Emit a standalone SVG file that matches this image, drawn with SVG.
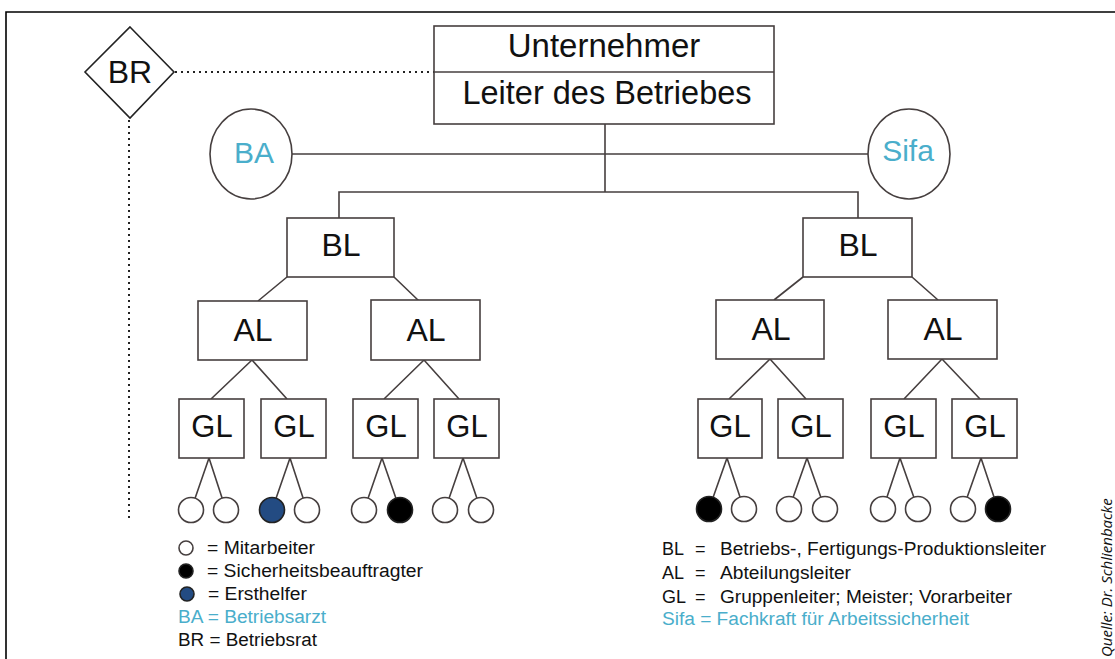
<svg xmlns="http://www.w3.org/2000/svg" width="1115" height="659" viewBox="0 0 1115 659">
<style>
.box{fill:#fff;stroke:#463f3f;stroke-width:1.6}
.ln{fill:none;stroke:#463f3f;stroke-width:1.6}
.dot{fill:none;stroke:#222;stroke-width:2;stroke-dasharray:2 4}
.t{font-family:"Liberation Sans",Arial,sans-serif;fill:#111;text-anchor:middle}
.big{font-size:32px}
.lg{font-family:"Liberation Sans",Arial,sans-serif;font-size:18px;fill:#111}
.t.cy,.lg.cy{fill:#4aaecb}
.w{fill:#fff;stroke:#463f3f;stroke-width:1.6}
.k{fill:#000;stroke:#222;stroke-width:1.6}
.b{fill:#234b82;stroke:#222;stroke-width:1.6}
</style>
<rect width="1115" height="659" fill="#fff"/>
<path d="M6 659 V12 H1115" fill="none" stroke="#000" stroke-width="1.6"/>

<g id="connectors">
<path class="dot" d="M175 72 H434"/>
<path class="dot" d="M129 120 V522"/>
<path class="ln" d="M605 124 V192 M292 154 H868 M339 218 V192 H858 V218"/>
<path class="ln" d="M287 277 L258 301 M394 277 L419 301 M803 277 L774 300 M912 277 L938 300"/>
<path class="ln" d="M252 360 L211 399 M252 360 L287 399 M424 360 L384 399 M424 360 L459 399"/>
<path class="ln" d="M770 359 L729 399 M770 359 L806 399 M942 359 L904 399 M942 359 L980 399"/>
<path class="ln" d="M209 458 L191 510 M209 458 L226 510 M290 458 L272 510 M290 458 L307 510 M382 458 L364 510 M382 458 L400 510 M463 458 L445 510 M463 458 L481 510"/>
<path class="ln" d="M727 458 L709 509 M727 458 L744 509 M807 458 L789 509 M807 458 L825 509 M900 458 L883 509 M900 458 L918 509 M981 458 L963 509 M981 458 L998 509"/>
</g>

<g id="br">
<polygon points="130,27 174,72 130,118 85,72" fill="#fff" stroke="#222" stroke-width="1.6"/>
<text class="t big" x="130" y="83" font-size="33">BR</text>
</g>

<g id="top">
<rect class="box" x="434" y="26" width="340" height="98"/>
<line class="ln" x1="434" y1="72" x2="774" y2="72"/>
<text class="t" font-size="33" x="604" y="57">Unternehmer</text>
<text class="t" x="607" y="104" font-size="32.5">Leiter des Betriebes</text>
</g>

<g id="ba">
<ellipse class="w" cx="251" cy="154" rx="41" ry="45"/>
<text class="t cy" x="254" y="163" font-size="30">BA</text>
</g>
<g id="sifa">
<ellipse class="w" cx="909" cy="154" rx="41" ry="45"/>
<text class="t cy" x="908" y="161" font-size="30">Sifa</text>
</g>

<g id="bl1"><rect class="box" x="287" y="218" width="107" height="59"/><text class="t big" x="341" y="256">BL</text></g>
<g id="bl2"><rect class="box" x="803" y="218" width="109" height="59"/><text class="t big" x="858" y="256">BL</text></g>

<g id="al1"><rect class="box" x="198" y="301" width="109" height="59"/><text class="t big" x="253" y="341">AL</text></g>
<g id="al2"><rect class="box" x="371" y="300" width="109" height="60"/><text class="t big" x="426" y="341">AL</text></g>
<g id="al3"><rect class="box" x="716" y="300" width="108" height="59"/><text class="t big" x="771" y="340">AL</text></g>
<g id="al4"><rect class="box" x="888" y="300" width="109" height="59"/><text class="t big" x="943" y="340">AL</text></g>

<g id="gl1"><rect class="box" x="179" y="399" width="65" height="59"/><text class="t" font-size="31" x="212" y="437">GL</text></g>
<g id="gl2"><rect class="box" x="261" y="399" width="65" height="59"/><text class="t" font-size="31" x="294" y="437">GL</text></g>
<g id="gl3"><rect class="box" x="353" y="399" width="65" height="59"/><text class="t" font-size="31" x="386" y="437">GL</text></g>
<g id="gl4"><rect class="box" x="434" y="399" width="65" height="59"/><text class="t" font-size="31" x="467" y="437">GL</text></g>
<g id="gl5"><rect class="box" x="698" y="399" width="64" height="59"/><text class="t" font-size="31" x="730" y="437">GL</text></g>
<g id="gl6"><rect class="box" x="778" y="399" width="65" height="59"/><text class="t" font-size="31" x="811" y="437">GL</text></g>
<g id="gl7"><rect class="box" x="871" y="399" width="65" height="59"/><text class="t" font-size="31" x="904" y="437">GL</text></g>
<g id="gl8"><rect class="box" x="952" y="399" width="65" height="59"/><text class="t" font-size="31" x="985" y="437">GL</text></g>

<g id="staff">
<circle class="w" cx="191" cy="510" r="12.5"/>
<circle class="w" cx="226" cy="510" r="12.5"/>
<circle class="b" cx="272" cy="510" r="12.5"/>
<circle class="w" cx="307" cy="510" r="12.5"/>
<circle class="w" cx="364" cy="510" r="12.5"/>
<circle class="k" cx="400" cy="510" r="12.5"/>
<circle class="w" cx="445" cy="510" r="12.5"/>
<circle class="w" cx="481" cy="510" r="12.5"/>
<circle class="k" cx="709" cy="509" r="12.5"/>
<circle class="w" cx="744" cy="509" r="12.5"/>
<circle class="w" cx="789" cy="509" r="12.5"/>
<circle class="w" cx="825" cy="509" r="12.5"/>
<circle class="w" cx="883" cy="509" r="12.5"/>
<circle class="w" cx="918" cy="509" r="12.5"/>
<circle class="w" cx="963" cy="509" r="12.5"/>
<circle class="k" cx="998" cy="509" r="12.5"/>
</g>

<g id="legend-left">
<circle class="w" cx="186" cy="548" r="7" stroke-width="1.3"/>
<circle class="k" cx="186" cy="571" r="7" stroke-width="1.3"/>
<circle class="b" cx="187" cy="594" r="7" stroke-width="1.3"/>
<text class="lg" x="207" y="554" textLength="108" lengthAdjust="spacingAndGlyphs">= Mitarbeiter</text>
<text class="lg" x="207" y="577" textLength="216" lengthAdjust="spacingAndGlyphs">= Sicherheitsbeauftragter</text>
<text class="lg" x="208" y="600" textLength="99" lengthAdjust="spacingAndGlyphs">= Ersthelfer</text>
<text class="lg cy" x="178" y="623" textLength="148" lengthAdjust="spacingAndGlyphs">BA = Betriebsarzt</text>
<text class="lg" x="178" y="646" textLength="139" lengthAdjust="spacingAndGlyphs">BR = Betriebsrat</text>
</g>

<g id="legend-right">
<text class="lg" y="555"><tspan x="662">BL</tspan><tspan x="695">=</tspan></text>
<text class="lg" x="720" y="555" textLength="326" lengthAdjust="spacingAndGlyphs">Betriebs-, Fertigungs-Produktionsleiter</text>
<text class="lg" y="579"><tspan x="662">AL</tspan><tspan x="695">=</tspan></text>
<text class="lg" x="720" y="579" textLength="131" lengthAdjust="spacingAndGlyphs">Abteilungsleiter</text>
<text class="lg" y="603"><tspan x="662">GL</tspan><tspan x="695">=</tspan></text>
<text class="lg" x="720" y="603" textLength="292" lengthAdjust="spacingAndGlyphs">Gruppenleiter; Meister; Vorarbeiter</text>
<text class="lg cy" x="662" y="625" textLength="307" lengthAdjust="spacingAndGlyphs">Sifa = Fachkraft für Arbeitssicherheit</text>
</g>

<text transform="translate(1112 657) rotate(-90)" font-family="'Open Sans',sans-serif" font-style="italic" font-size="15" fill="#111">Quelle: Dr. Schlienbacke</text>
</svg>
